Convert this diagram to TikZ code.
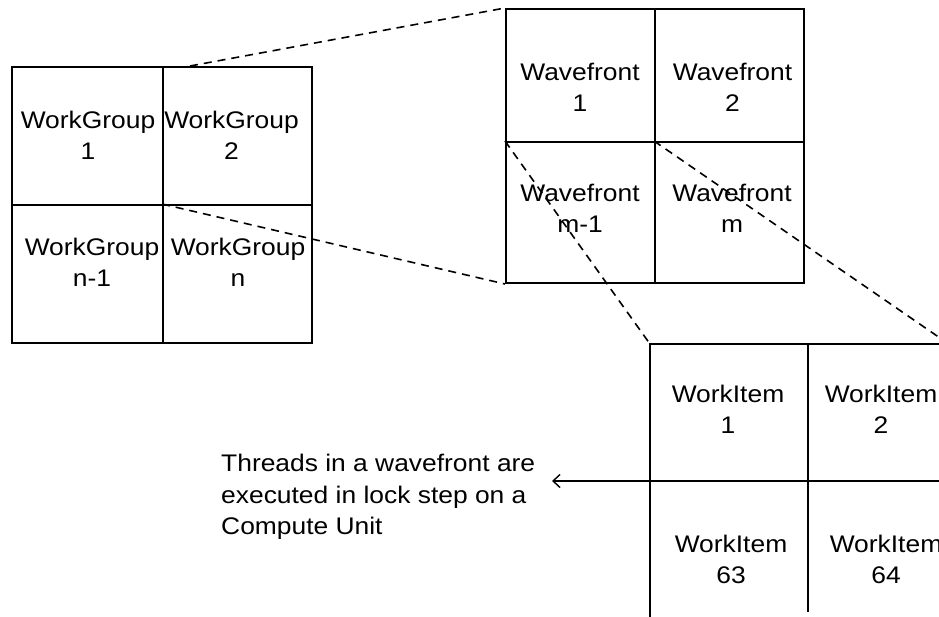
\documentclass[tikz,border=0pt]{standalone}
\usepackage{fontspec}
\setmainfont{Liberation Sans}
\usetikzlibrary{arrows.meta}
\newcommand{\hs}[1]{\scalebox{1.1}[1]{#1}}
\newcommand{\twoline}[2]{\hs{#1}\\\hs{#2}}
\begin{document}
\begin{tikzpicture}[x=1pt,y=-1pt,
  cell/.style={draw,line width=2pt,inner sep=0pt,anchor=north west,minimum width=#1},
  lbl/.style={inner sep=0pt,align=center,font=\fontsize{24}{31}\selectfont},
  zoomline/.style={line width=1.6pt,dash pattern=on 8pt off 6pt},
  grid/.style={line width=2pt}]
\useasboundingbox (0,0) rectangle (939,617);
\clip (0,0) rectangle (939,617);

% work-groups
\node[cell=151pt,minimum height=138pt] (g1) at (11,66) {};
\node[cell=149pt,minimum height=138pt] (g2) at (162,66) {};
\node[cell=151pt,minimum height=138pt] (g3) at (11,204) {};
\node[cell=149pt,minimum height=138pt] (g4) at (162,204) {};
\node[lbl] at (88,135) {\twoline{WorkGroup}{1}};
\node[lbl] at (231.5,135) {\twoline{WorkGroup}{2}};
\node[lbl] at (92,262.5) {\twoline{WorkGroup}{n-1}};
\node[lbl] at (238,262.5) {\twoline{WorkGroup}{n}};

% wavefronts of one work-group
\node[cell=149pt,minimum height=133pt] (w1) at (505,8) {};
\node[cell=149pt,minimum height=133pt] (w2) at (654,8) {};
\node[cell=149pt,minimum height=141pt] (w3) at (505,141) {};
\node[cell=149pt,minimum height=141pt] (w4) at (654,141) {};
\node[lbl] at (580,87.5) {\twoline{Wavefront}{1}};
\node[lbl] at (732.5,87.5) {\twoline{Wavefront}{2}};
\node[lbl] at (580,208) {\twoline{Wavefront}{m-1}};
\node[lbl] at (732,208) {\twoline{Wavefront}{m}};

% work-items of one wavefront
\coordinate (i1) at (650,344);
\coordinate (imid) at (808,344);
\coordinate (ileft) at (650,481);
\draw[grid] (650,617) -- (i1) -- (939,344);
\draw[grid] (imid) -- (808,612);
\draw[grid] (ileft) -- (939,481);
\node[lbl] at (728,409) {\twoline{WorkItem}{1}};
\node[lbl] at (881,409) {\twoline{WorkItem}{2}};
\node[lbl] at (731,559) {\twoline{WorkItem}{63}};
\node[lbl] at (886,559) {\twoline{WorkItem}{64}};

% zoom guides
\coordinate (gtop) at (190,66);
\coordinate (iright) at (940,338);
\draw[zoomline] (gtop) -- (w1.north west);
\draw[zoomline] (g4.north west) -- (w3.south west);
\draw[zoomline] (w3.north west) -- (i1);
\draw[zoomline] (w4.north west) -- (iright);

% note
\coordinate (note) at (552,481);
\draw[line width=1.4pt,-{Straight Barb[length=7pt,width=13pt]}] (ileft) -- (note);
\node[inner sep=0pt,anchor=west,align=left,font=\fontsize{24}{31.5}\selectfont] (txt) at (221,497)
  {\hs{Threads in a wavefront are}\\\hs{executed in lock step on a}\\\hs{Compute Unit}};
\end{tikzpicture}
\end{document}
